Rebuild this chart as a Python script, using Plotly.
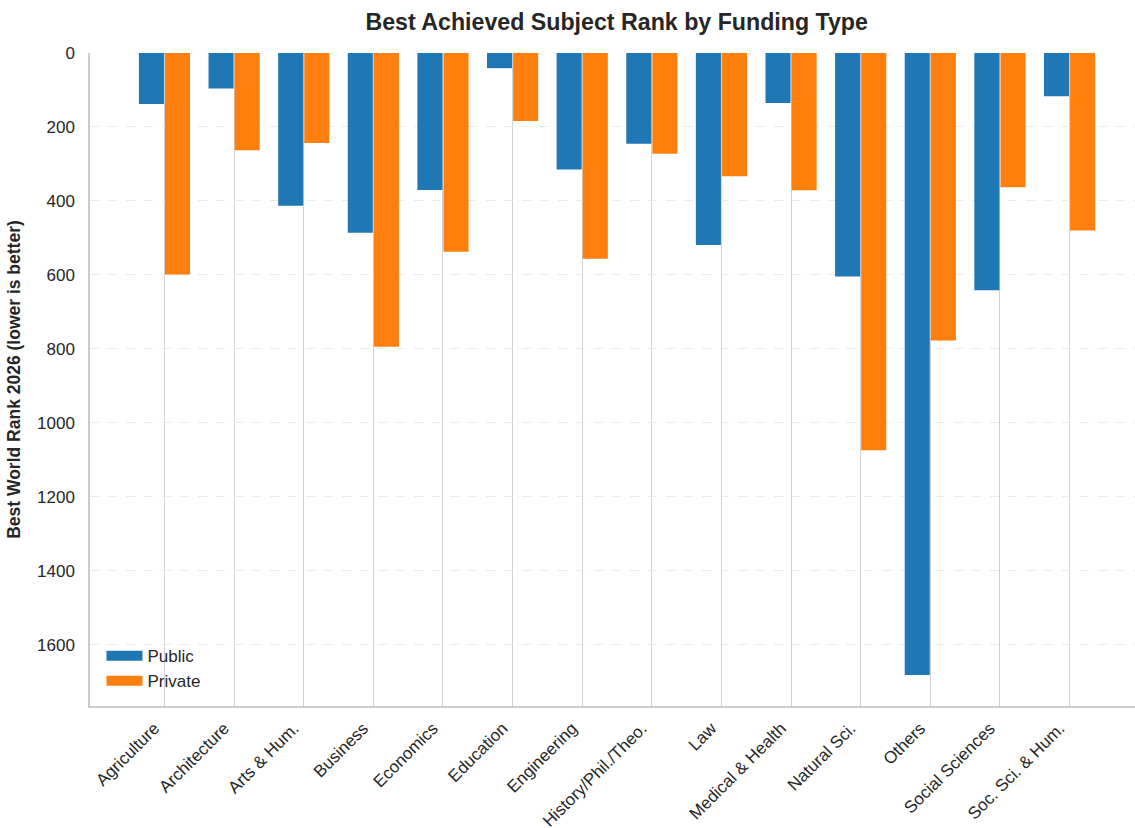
import plotly.graph_objects as go

# Subject areas and best world rank (2026) per funding type
subjects = [
    "Agriculture", "Architecture", "Arts & Hum.", "Business", "Economics",
    "Education", "Engineering", "History/Phil./Theo.", "Law", "Medical & Health",
    "Natural Sci.", "Others", "Social Sciences", "Soc. Sci. & Hum.",
]
public_rank = [138, 96, 413, 486, 370, 41, 315, 245, 519, 135, 604, 1681, 641, 117]
private_rank = [599, 263, 243, 794, 537, 184, 556, 272, 333, 371, 1074, 777, 363, 480]

y_ticks = [0, 200, 400, 600, 800, 1000, 1200, 1400, 1600]

BLUE = "#1f77b4"
ORANGE = "#ff7f0e"
FONT = "Liberation Sans, Arial, sans-serif"
TEXT = "#262626"

fig = go.Figure()
fig.add_trace(go.Bar(x=subjects, y=public_rank, name="Public", showlegend=False,
                     marker=dict(color=BLUE, line=dict(width=0))))
fig.add_trace(go.Bar(x=subjects, y=private_rank, name="Private", showlegend=False,
                     marker=dict(color=ORANGE, line=dict(width=0))))

# Legend entries drawn as wide flat patches
for name, color in [("Public", BLUE), ("Private", ORANGE)]:
    fig.add_trace(go.Scatter(x=[None], y=[None], mode="lines", name=name,
                             line=dict(color=color, width=11), hoverinfo="skip"))

y_max = max(max(public_rank), max(private_rank)) * 1.05

fig.update_layout(
    width=1135, height=828,
    autosize=False,
    paper_bgcolor="white",
    plot_bgcolor="white",
    font=dict(family=FONT, size=17, color=TEXT),
    margin=dict(l=90, r=0, t=53, b=122, autoexpand=False),
    barmode="group",
    bargap=0.25,
    bargroupgap=0.04,
    title=dict(
        text="<b>Best Achieved Subject Rank by Funding Type</b>",
        x=0.504, xref="paper", xanchor="center",
        y=1 - 22 / 828, yref="container", yanchor="middle",
        font=dict(family=FONT, size=23.2, color=TEXT),
    ),
    legend=dict(
        x=0.011, y=0.104, xanchor="left", yanchor="top",
        bgcolor="rgba(255,255,255,0)",
        font=dict(family=FONT, size=17, color=TEXT),
        itemwidth=36,
        tracegroupgap=0,
    ),
    showlegend=True,
)

fig.update_xaxes(
    type="category",
    range=[-1.07, len(subjects) - 1 + 0.94],
    tickangle=-45,
    showgrid=True, gridcolor="#d2d2d2", gridwidth=1,
    showline=True, linecolor="#cccccc", linewidth=1.5,
    ticks="outside", ticklen=4, tickcolor="rgba(0,0,0,0)",
    ticklabelshift=-10,
    tickfont=dict(family=FONT, size=17, color=TEXT),
    zeroline=False,
)

fig.update_yaxes(
    range=[y_max, 0],
    tickmode="array", tickvals=y_ticks, ticktext=[str(v) for v in y_ticks],
    showgrid=True, gridcolor="#ebebeb", gridwidth=1, griddash="dash",
    showline=True, linecolor="#cccccc", linewidth=1.5,
    ticks="outside", ticklen=10, tickcolor="rgba(0,0,0,0)",
    tickfont=dict(family=FONT, size=17, color=TEXT),
    zeroline=False,
    title=dict(text="<b>Best World Rank 2026 (lower is better)</b>",
               font=dict(family=FONT, size=17.5, color=TEXT),
               standoff=12),
)

fig.write_html("out.html")
